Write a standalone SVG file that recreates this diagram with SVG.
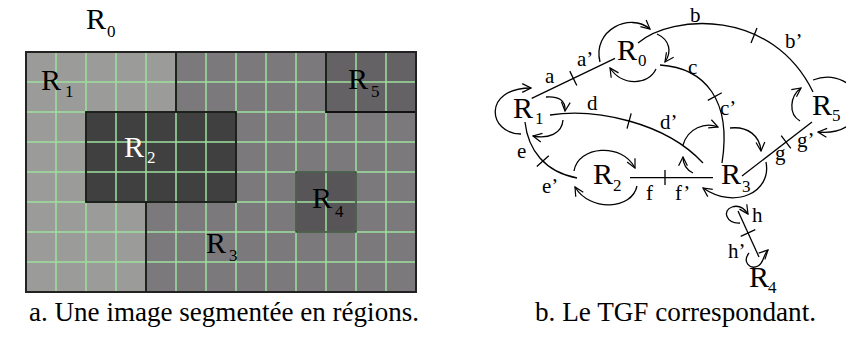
<svg xmlns="http://www.w3.org/2000/svg" width="846" height="338" viewBox="0 0 846 338" font-family="'Liberation Serif', 'DejaVu Serif', Times, serif">
<style>
text{font-family:'Liberation Serif','DejaVu Serif',Times,serif;fill:#000}
.R{font-size:30px}
.sub{font-size:17px}
.lbl{font-size:21px}
.cap{font-size:27px}
.grid{stroke:#9fdf9f;stroke-width:1.5;fill:none}
.bd{stroke:#111;stroke-width:1.8;fill:none}
.edge{stroke:#000;stroke-width:1.3;fill:none}
.tick{stroke:#000;stroke-width:1.3;fill:none}
.loop{stroke:#000;stroke-width:1.3;fill:none;marker-end:url(#arr)}
</style>
<defs>
<marker id="arr" viewBox="0 0 10 10" refX="9" refY="5" markerWidth="11" markerHeight="11" markerUnits="userSpaceOnUse" orient="auto">
<path d="M1,1 L9,5 L1,9" fill="none" stroke="#000" stroke-width="1.1"/>
</marker>
</defs>

<!-- a. segmented image -->
<g id="image-a">
<rect x="26" y="52" width="390" height="240" fill="#7b797c"/>
<polygon points="26,52 176,52 176,112 86,112 86,202 146,202 146,292 26,292" fill="#9b9c9a"/>
<rect x="86" y="112" width="150" height="90" fill="#404040"/>
<rect x="326" y="52" width="90" height="60" fill="#646265"/>
<rect x="296" y="172" width="60" height="60" fill="#575558"/>
<path class="grid" d="M56,52V292M86,52V292M116,52V292M146,52V292M176,52V292M206,52V292M236,52V292M266,52V292M296,52V292M326,52V292M356,52V292M386,52V292M26,82H416M26,112H416M26,142H416M26,172H416M26,202H416M26,232H416M26,262H416"/>
<path class="bd" d="M176,52V112M146,202V292M326,52V112H416"/>
<rect class="bd" x="86" y="112" width="150" height="90"/>
<rect x="296" y="172" width="60" height="60" fill="none" stroke="#222" stroke-width="1.2"/>
<rect x="26" y="52" width="390" height="240" fill="none" stroke="#222" stroke-width="2"/>
<text class="R" x="86" y="29">R<tspan class="sub" x="107" y="37">0</tspan></text>
<text class="R" x="41" y="90">R<tspan class="sub" x="65" y="97">1</tspan></text>
<text class="R" x="124" y="157" style="fill:#fff">R<tspan class="sub" x="147" y="163" style="fill:#fff">2</tspan></text>
<text class="R" x="206" y="253">R<tspan class="sub" x="229" y="261">3</tspan></text>
<text class="R" x="312" y="208">R<tspan class="sub" x="335" y="217">4</tspan></text>
<text class="R" x="348" y="89">R<tspan class="sub" x="371" y="97">5</tspan></text>
</g>

<!-- b. graph connectors -->
<g id="connectors">
<path class="edge" d="M531.7,98.3 L615,58.3"/>
<path class="edge" d="M638,43 C672,14 772,8 813,92"/>
<path class="edge" d="M660,65 C705,68 732,100 722,163"/>
<path class="edge" d="M550,115 C595,108 665,122 703,163"/>
<path class="edge" d="M525,122 C528,150 545,172 577,178"/>
<path class="edge" d="M630,177.7 H713"/>
<path class="edge" d="M742,176 L812,122"/>
<path class="edge" d="M738,211 L759,257"/>
<path class="tick" d="M569.8,71.1 L576.8,85.5M757,28 L751,43M721.8,92.8 L707.8,100.4M631.2,113.3 L627,128.7M548.8,155.8 L536.8,166.4M665,170 V185M781.2,135.6 L790.8,148.4M740.7,236.3 L755.3,229.7"/>
<text class="lbl" x="545" y="83">a</text>
<text class="lbl" x="577" y="66">a’</text>
<text class="lbl" x="690" y="22">b</text>
<text class="lbl" x="785" y="48">b’</text>
<text class="lbl" x="688" y="74">c</text>
<text class="lbl" x="720" y="115">c’</text>
<text class="lbl" x="587" y="110">d</text>
<text class="lbl" x="660" y="129">d’</text>
<text class="lbl" x="517" y="158">e</text>
<text class="lbl" x="542" y="193">e’</text>
<text class="lbl" x="646" y="200">f</text>
<text class="lbl" x="675" y="200">f’</text>
<text class="lbl" x="775" y="160">g</text>
<text class="lbl" x="797" y="147">g’</text>
<text class="lbl" x="752" y="222">h</text>
<text class="lbl" x="728" y="258">h’</text>
</g>

<g id="node-R0">
<path class="loop" d="M600,62 C592,30 630,12 650,29"/>
<path class="loop" d="M657,34 C670,40 672,52 665,62"/>
<path class="loop" d="M656,69 C648,86 622,86 610,68"/>
<text class="R" x="617" y="60">R<tspan class="sub" x="638" y="66">0</tspan></text>
</g>
<g id="node-R1">
<path class="loop" d="M521,134 C488,134 482,88 531,88"/>
<path class="loop" d="M546,97 C558,96 566,100 565,111"/>
<path class="loop" d="M563,120 C562,134 548,139 533,136"/>
<text class="R" x="513" y="118">R<tspan class="sub" x="535" y="124">1</tspan></text>
</g>
<g id="node-R2">
<path class="loop" d="M574,171 C578,146 622,142 635,168"/>
<path class="loop" d="M637,186 C632,210 590,212 575,187"/>
<text class="R" x="593" y="184">R<tspan class="sub" x="613" y="191">2</tspan></text>
</g>
<g id="node-R3">
<path class="loop" d="M683,145 C688,128 705,122 718,127"/>
<path class="loop" d="M730,128 C748,126 760,136 761,151"/>
<path class="loop" d="M766,162 C772,192 735,210 703,188"/>
<path class="loop" d="M693,173 C687,170 683,166 683,157"/>
<path class="loop" d="M740,223 C726,224 722,210 732,207 C738,205 744,208 748,214"/>
<text class="R" x="721" y="184">R<tspan class="sub" x="742" y="192">3</tspan></text>
</g>
<g id="node-R4">
<path class="loop" d="M749,253 C742,262 750,270 758,266 C764,263 763,255 768,250"/>
<text class="R" x="749" y="287">R<tspan class="sub" x="768" y="293">4</tspan></text>
</g>
<g id="node-R5">
<path class="loop" d="M800,121 C788,114 790,96 801,88"/>
<path class="loop" d="M813,80 C833,72 858,82 858,105 C858,125 840,134 818,132"/>
<text class="R" x="812" y="115">R<tspan class="sub" x="832" y="121">5</tspan></text>
</g>

<g id="captions">
<text class="cap" x="29" y="321" textLength="390" lengthAdjust="spacingAndGlyphs">a. Une image segmentée en régions.</text>
<text class="cap" x="535" y="321" textLength="281" lengthAdjust="spacingAndGlyphs">b. Le TGF correspondant.</text>
</g>
</svg>
